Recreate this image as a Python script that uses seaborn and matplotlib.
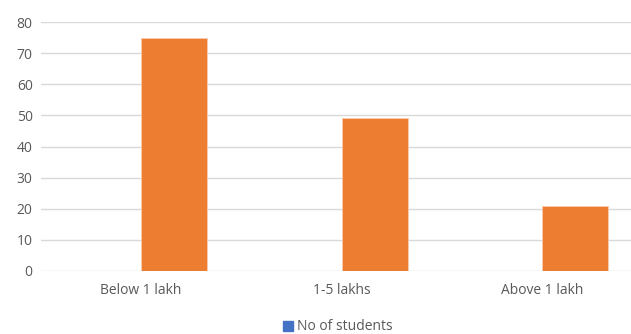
import matplotlib
matplotlib.use("Agg")
import matplotlib.pyplot as plt
import seaborn as sns
import pandas as pd
from matplotlib.patches import Patch

categories = ["Below 1 lakh", "1-5 lakhs", "Above 1 lakh"]
series_names = ["No of students", "Series2"]
no_of_students = [0, 0, 0]
series2 = [75, 49, 21]
y_ticks = [0, 10, 20, 30, 40, 50, 60, 70, 80]

df = pd.DataFrame({
    "category": categories * 2,
    "series": [series_names[0]] * 3 + [series_names[1]] * 3,
    "value": no_of_students + series2,
})

sns.set_theme(style="white")
plt.rcParams["font.family"] = ["Open Sans", "DejaVu Sans"]

fig = plt.figure(figsize=(6.31, 3.34), dpi=100)
ax = fig.add_axes([41 / 631, 1 - 271 / 334, 601 / 631, 249 / 334])

palette = {series_names[0]: "#4472C4", series_names[1]: "#ED7D31"}
sns.barplot(data=df, x="category", y="value", hue="series", hue_order=series_names,
            palette=palette, width=0.66, dodge=True, legend=False, ax=ax,
            edgecolor="#F8CBAD", linewidth=0.6, saturation=1)

ax.set_ylim(0, 80)
ax.set_xlim(-0.5, 2.5)
ax.set_yticks(y_ticks)
ax.grid(axis="y", color="#D9D9D9", linewidth=1)
ax.set_axisbelow(True)
for s in ax.spines.values():
    s.set_visible(False)
ax.tick_params(axis="both", length=0, labelsize=10, labelcolor="#595959")
ax.tick_params(axis="x", pad=9)
ax.tick_params(axis="y", pad=6)
ax.set_xlabel("")
ax.set_ylabel("")

handles = [Patch(facecolor="#4472C4", edgecolor="#4472C4", label=series_names[0])]
fig.legend(handles=handles, loc="center", bbox_to_anchor=(338 / 631, 1 - 327 / 334),
           frameon=False, fontsize=10, labelcolor="#595959",
           handlelength=0.7, handleheight=0.7, handletextpad=0.3)

fig.savefig("out.png", dpi=100)
